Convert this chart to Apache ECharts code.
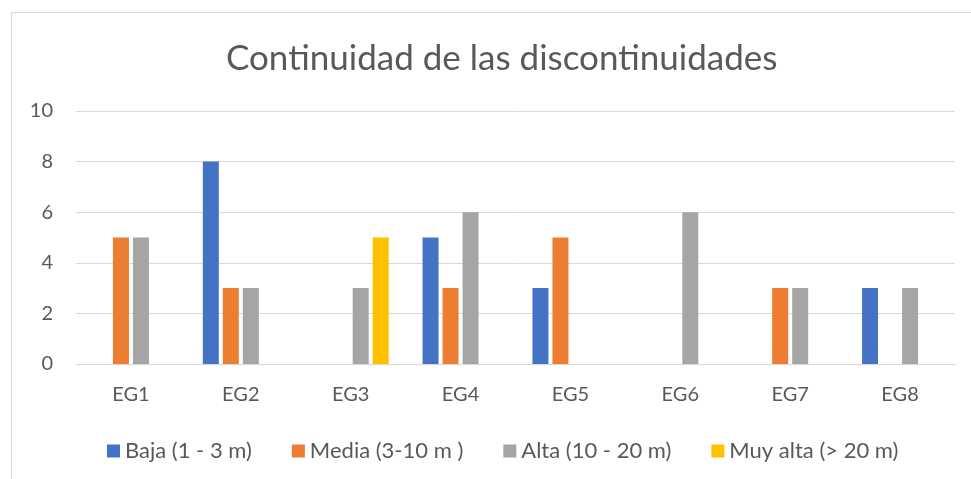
<!DOCTYPE html>
<html>
<head>
<meta charset="utf-8">
<script src="https://cdn.jsdelivr.net/npm/echarts@6/dist/echarts.min.js"></script>
<style>
  html, body { margin: 0; padding: 0; background: #fff; }
  #wrap { position: relative; width: 971px; height: 479px; overflow: hidden; }
  #frame { position: absolute; left: 11px; top: 12px; width: 1000px; height: 500px; border: 1px solid #d9d9d9; box-sizing: border-box; }
  #chart { position: absolute; left: 0; top: 0; width: 971px; height: 479px; }
</style>
</head>
<body>
<div id="wrap">
  <div id="frame"></div>
  <div id="chart"></div>
</div>
<script>
// datos
const categories = ['EG1', 'EG2', 'EG3', 'EG4', 'EG5', 'EG6', 'EG7', 'EG8']
const baja = [0, 8, 0, 5, 3, 0, 0, 3]
const media = [5, 3, 0, 3, 5, 0, 3, 0]
const alta = [5, 3, 3, 6, 0, 6, 3, 3]
const muyAlta = [0, 0, 5, 0, 0, 0, 0, 0]

const seriesNames = ['Baja (1 - 3 m)', 'Media (3-10 m )', 'Alta (10 - 20 m)', 'Muy alta (> 20 m)']
const colors = ['#4472C4', '#ED7D31', '#A5A5A5', '#FFC000']
const fontFamily = 'Lato, "Open Sans", sans-serif'

const chart = echarts.init(document.getElementById('chart'))

const makeSeries = (name, data, color) => ({
  name,
  type: 'bar',
  data,
  barWidth: 16,
  barGap: '25%',
  itemStyle: { color },
  emphasis: { disabled: true }
})

chart.setOption({
  animation: false,
  textStyle: { fontFamily },
  title: {
    text: 'Continuidad de las discontinuidades',
    left: 221,
    top: 36,
    textStyle: { fontSize: 35, fontWeight: 'normal', color: '#595959', fontFamily }
  },
  legend: {
    bottom: 12,
    left: 102,
    itemWidth: 13,
    itemHeight: 13,
    itemGap: 40,
    icon: 'rect',
    textStyle: { fontSize: 22, color: '#595959', fontFamily },
    data: seriesNames
  },
  grid: {
    left: 76,
    right: 16,
    top: 111,
    bottom: 115
  },
  xAxis: {
    type: 'category',
    data: categories,
    axisLine: { lineStyle: { color: '#d9d9d9', width: 1 } },
    axisTick: { show: false },
    axisLabel: { fontSize: 20, color: '#595959', margin: 21, fontFamily }
  },
  yAxis: {
    type: 'value',
    min: 0,
    max: 10,
    interval: 2,
    axisLine: { show: false },
    axisTick: { show: false },
    splitLine: { lineStyle: { color: '#d9d9d9', width: 1 } },
    axisLabel: { fontSize: 20, color: '#595959', margin: 23, fontFamily }
  },
  series: [
    makeSeries(seriesNames[0], baja, colors[0]),
    makeSeries(seriesNames[1], media, colors[1]),
    makeSeries(seriesNames[2], alta, colors[2]),
    makeSeries(seriesNames[3], muyAlta, colors[3])
  ]
})
</script>
</body>
</html>
